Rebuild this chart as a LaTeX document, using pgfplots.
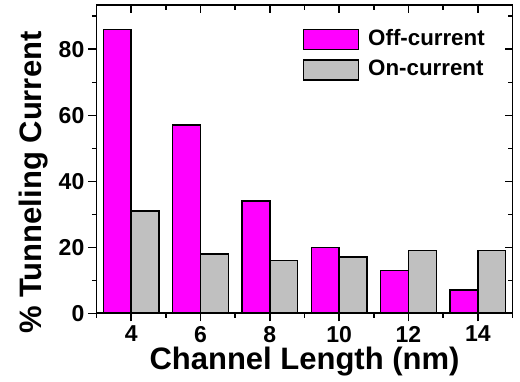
\documentclass[border=0pt]{standalone}
\usepackage{fontspec}
\setmainfont{Liberation Sans}
\usepackage{pgfplots}
\pgfplotsset{compat=1.18}
\definecolor{offc}{HTML}{FF00FF}
\definecolor{onc}{HTML}{C0C0C0}
\begin{document}
\begin{tikzpicture}
\useasboundingbox (0pt,0pt) rectangle (520pt,381pt);
\pgfplotsset{
  common/.style={
    at={(96.5pt,67.7pt)}, anchor=south west,
    scale only axis, width=416pt, height=308pt,
    xmin=3, xmax=15, ymin=0, ymax=93.3,
    xtick={2,4,...,16}, minor x tick num=1,
    ytick={0,20,...,100}, minor y tick num=1,
    major tick length=8pt, minor tick length=4.5pt,
    axis line style={line width=1.8pt},
    every tick/.style={black, line width=1.4pt},
    /pgf/number format/assume math mode=true,
  }
}
\begin{axis}[common,
  tick align=outside, xtick pos=left, ytick pos=left,
  tick label style={font=\fontsize{23}{23}\selectfont\bfseries},
  x tick label style={inner sep=0pt, yshift=-4.5pt},
  y tick label style={inner sep=0pt, xshift=-4pt},
  xlabel={Channel Length (nm)},
  ylabel={\% Tunneling Current},
  every axis x label/.style={at={(axis description cs:0.5,-0.184)}, anchor=base, font=\fontsize{31}{31}\selectfont\bfseries},
  every axis y label/.style={at={(axis description cs:-0.1322,0.424)}, anchor=base, rotate=90, font=\fontsize{31}{31}\selectfont\bfseries},
  ybar, bar width=0.8,
  legend image code/.code={\draw[#1, line width=1.4pt] (0pt,-10pt) rectangle (55pt,10pt);},
  legend style={draw=none, fill=none, at={(axis description cs:0.496,0.925)}, anchor=north west,
    inner sep=0pt, outer sep=0pt, row sep=8.5pt, column sep=9pt,
    nodes={inner sep=0pt, text height=17pt, text depth=5pt, font=\fontsize{22.3}{22.3}\selectfont\bfseries},
    cells={anchor=west}},
]
\addplot[fill=offc, draw=black, line width=1.4pt, bar shift=-0.4] coordinates {(4,86) (6,57) (8,34) (10,20) (12,13) (14,7)};
\addlegendentry{Off-current}
\addplot[fill=onc, draw=black, line width=1.4pt, bar shift=0.4] coordinates {(4,31) (6,18) (8,16) (10,17) (12,19) (14,19)};
\addlegendentry{On-current}
\end{axis}
\begin{axis}[common,
  tick align=inside, xtick pos=right, ytick pos=right,
  xticklabels={}, yticklabels={},
]
\end{axis}
\end{tikzpicture}
\end{document}
